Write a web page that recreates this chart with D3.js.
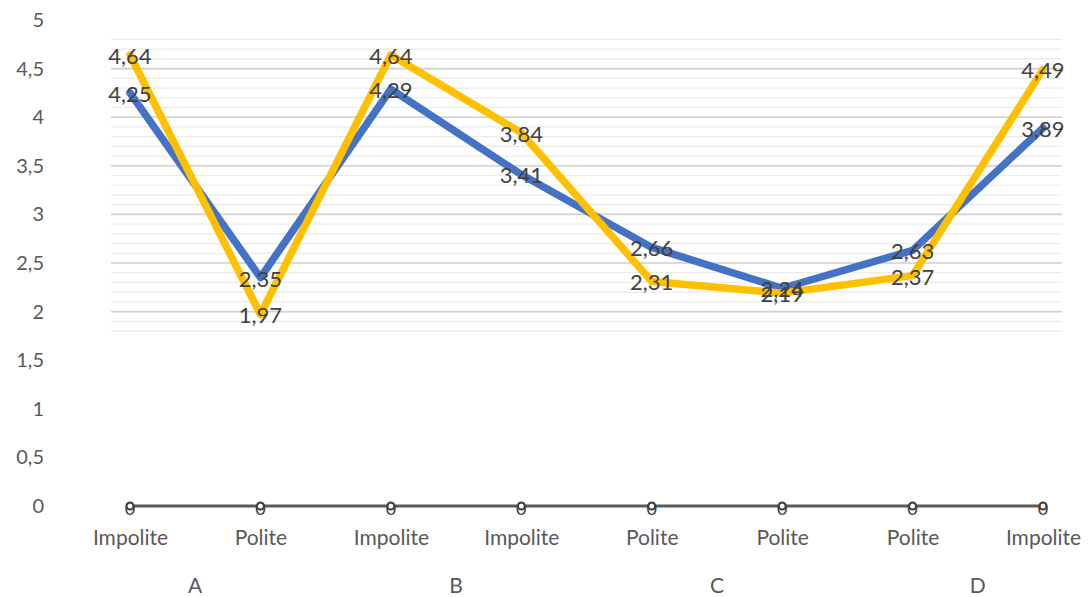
<!DOCTYPE html>
<html>
<head>
<meta charset="utf-8">
<script src="https://cdn.jsdelivr.net/npm/d3@7/dist/d3.min.js"></script>
<style>
  html, body { margin: 0; padding: 0; background: #fff; }
  svg { display: block; font-family: Lato, "Open Sans", sans-serif; }
</style>
</head>
<body>
<svg id="chart" width="1090" height="597"></svg>
<script>
// Category axis: condition per item, grouped under a letter
const categories = ["Impolite", "Polite", "Impolite", "Impolite", "Polite", "Polite", "Polite", "Impolite"];
const groups = ["A", "B", "C", "D"];
const blueValues = [4.25, 2.35, 4.29, 3.41, 2.66, 2.24, 2.63, 3.89];
const yellowValues = [4.64, 1.97, 4.64, 3.84, 2.31, 2.19, 2.37, 4.49];
const zeroValues = [0, 0, 0, 0, 0, 0, 0, 0];
const yTicks = [0, 0.5, 1, 1.5, 2, 2.5, 3, 3.5, 4, 4.5, 5];
const minorGrid = d3.range(18, 49).map(v => v / 10);

const svg = d3.select("#chart");
const fmt = v => String(v).replace(".", ",");

const x = d3.scalePoint().domain(d3.range(categories.length)).range([130, 1043]);
const y = d3.scaleLinear().domain([0, 5]).range([506, 20]);

// shaded grid band
const band = svg.append("g");
band.selectAll("line.minor").data(minorGrid).join("line")
  .attr("x1", 111).attr("x2", 1062)
  .attr("y1", d => y(d)).attr("y2", d => y(d))
  .attr("stroke", "#ebebeb").attr("stroke-width", 1.2);
band.selectAll("line.major").data(yTicks.filter(t => t >= 2 && t <= 4.5)).join("line")
  .attr("x1", 111).attr("x2", 1062)
  .attr("y1", d => y(d)).attr("y2", d => y(d))
  .attr("stroke", "#d2d2d2").attr("stroke-width", 1.6);

// y axis labels
const yAxis = d3.axisLeft(y).tickValues(yTicks).tickFormat(fmt).tickSize(0).tickPadding(0);
const gy = svg.append("g").attr("transform", "translate(44,0)").call(yAxis);
gy.select(".domain").remove();
gy.selectAll("text").attr("font-size", 20).attr("fill", "#595959")
  .attr("font-family", "Lato, sans-serif");

// category labels
const xAxis = d3.axisBottom(x).tickFormat(i => categories[i]).tickSize(0).tickPadding(0);
const gx = svg.append("g").attr("transform", "translate(0,530)").call(xAxis);
gx.select(".domain").remove();
gx.selectAll("text").attr("font-size", 21).attr("fill", "#595959")
  .attr("font-family", "Lato, sans-serif");

// group labels
svg.append("g").selectAll("text").data(groups).join("text")
  .attr("x", (d, i) => (x(i * 2) + x(i * 2 + 1)) / 2)
  .attr("y", 593)
  .attr("text-anchor", "middle")
  .attr("font-size", 21).attr("fill", "#595959")
  .text(d => d);

const line = d3.line().x((d, i) => x(i)).y(d => y(d));

// zero series
svg.append("path").datum(zeroValues).attr("d", line)
  .attr("fill", "none").attr("stroke", "#5a5a5a").attr("stroke-width", 3);
svg.append("g").selectAll("circle").data(zeroValues).join("circle")
  .attr("cx", (d, i) => x(i)).attr("cy", d => y(d)).attr("r", 3.5)
  .attr("fill", "#fff").attr("stroke", "#404040").attr("stroke-width", 2);

const series = [
  { values: blueValues, color: "#4472C4" },
  { values: yellowValues, color: "#FFC000" }
];

series.forEach(s => {
  svg.append("path").datum(s.values).attr("d", line)
    .attr("fill", "none").attr("stroke", s.color)
    .attr("stroke-width", 7.5).attr("stroke-linejoin", "round").attr("stroke-linecap", "round");
});

// data labels, centred on the points
[...series.map(s => s.values), zeroValues].forEach(vals => {
  const isZero = vals === zeroValues;
  svg.append("g").selectAll("text").data(vals).join("text")
    .attr("x", (d, i) => x(i)).attr("y", d => y(d) + (isZero ? 3 : 1))
    .attr("dy", "0.36em")
    .attr("text-anchor", "middle")
    .attr("font-size", isZero ? 18 : 22)
    .attr("fill", "#404040")
    .text(d => fmt(d));
});
</script>
</body>
</html>
